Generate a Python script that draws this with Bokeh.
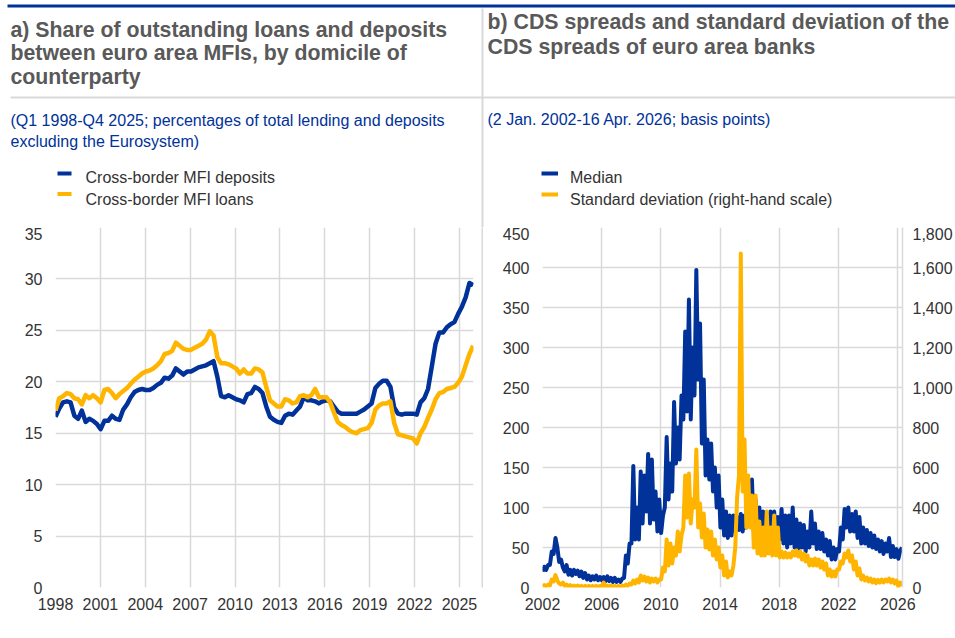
import numpy as np
from bokeh.plotting import figure
from bokeh.models import Range1d, LinearAxis, FixedTicker, NumeralTickFormatter
from bokeh.core.properties import value
from bokeh.layouts import row, column
from bokeh.embed import file_html
from bokeh.resources import INLINE

BLUE = "#003299"
YELLOW = "#ffb400"
GRID = "#d9d9d9"
FONT = "Liberation Sans"
TXT = "#333333"
TITLE_C = "#595959"

# ---------------- Panel a data (quarterly, Q1 1998 - Q4 2025) ----------------
deposits = [
    16.6, 17.4, 18.0, 18.1, 18.0, 16.7, 16.4, 17.2,   # 1998-1999
    16.1, 16.4, 16.2, 15.9, 15.4, 16.2, 16.2, 16.7,   # 2000-2001
    16.4, 16.3, 17.3, 17.8, 18.5, 19.0, 19.2, 19.3,   # 2002-2003
    19.2, 19.2, 19.4, 19.7, 19.9, 20.4, 20.3, 20.6,   # 2004-2005
    21.3, 21.0, 20.7, 21.0, 21.0, 21.2, 21.4, 21.5,   # 2006-2007
    21.6, 21.8, 22.0, 20.5, 18.6, 18.5, 18.7, 18.5,   # 2008-2009
    18.3, 18.2, 18.0, 18.8, 18.9, 19.5, 19.3, 18.9,   # 2010-2011
    17.6, 16.6, 16.3, 16.1, 16.0, 16.7, 16.9, 16.8,   # 2012-2013
    17.2, 17.6, 18.5, 18.2, 18.2, 18.1, 17.9, 18.1,   # 2014-2015
    18.2, 18.1, 17.6, 17.1, 16.9, 16.9, 16.9, 16.9,   # 2016-2017
    16.9, 17.1, 17.3, 17.6, 17.9, 19.4, 19.8, 20.1,   # 2018-2019
    20.1, 19.5, 17.5, 16.9, 16.8, 16.9, 16.9, 16.9,   # 2020-2021
    16.8, 18.0, 18.4, 19.3, 21.5, 23.7, 24.8, 24.8,   # 2022-2023
    25.3, 25.6, 25.8, 26.6, 27.3, 28.2, 29.6, 29.4,   # 2024-2025
]
loans = [
    17.2, 18.4, 18.6, 18.9, 18.8, 18.4, 18.3, 17.8,   # 1998-1999
    18.7, 18.4, 18.7, 18.4, 18.0, 19.2, 19.3, 18.9,   # 2000-2001
    18.4, 18.8, 19.1, 19.4, 19.8, 20.2, 20.5, 20.8,   # 2002-2003
    21.0, 21.1, 21.3, 21.6, 22.0, 22.7, 22.8, 23.0,   # 2004-2005
    23.8, 23.5, 23.2, 23.1, 23.1, 23.3, 23.5, 23.7,   # 2006-2007
    24.1, 24.9, 24.5, 22.4, 21.8, 21.8, 21.7, 21.5,   # 2008-2009
    21.3, 20.8, 21.2, 20.8, 20.8, 21.3, 21.2, 20.9,   # 2010-2011
    19.5, 18.2, 17.9, 17.6, 17.6, 18.3, 18.2, 17.9,   # 2012-2013
    18.0, 18.6, 18.7, 18.5, 18.7, 19.3, 18.5, 18.5,   # 2014-2015
    18.5, 18.0, 17.0, 16.1, 15.8, 15.6, 15.3, 15.1,   # 2016-2017
    15.0, 15.3, 15.4, 15.5, 16.0, 17.3, 17.7, 17.9,   # 2018-2019
    17.9, 18.1, 16.0, 14.9, 14.8, 14.7, 14.6, 14.5,   # 2020-2021
    14.0, 15.0, 15.6, 16.5, 17.3, 18.3, 18.9, 19.0,   # 2022-2023
    19.3, 19.4, 19.5, 19.9, 20.5, 21.6, 22.7, 23.5,   # 2024-2025
]
a_start, a_end = 1998.0, 2025.92          # Q1 1998 .. Q4 2025
a_xticks = list(range(1998, 2026, 3))
a_yticks = list(range(0, 36, 5))

# ---------------- Panel b data (low/high within each quarter, 2002 - Apr 2026) ----------------
median = [
    20, 26, 22, 28, 28, 45, 42, 62,          # 2002
    50, 32, 35, 25, 20, 28, 16, 22,          # 2003
    15, 22, 17, 21, 14, 20, 12, 18,          # 2004
    10, 15, 9, 14, 10, 15, 9, 13,            # 2005
    9, 13, 8, 14, 8, 12, 7, 12,              # 2006
    7, 10, 7, 11, 12, 40, 30, 55,            # 2007
    55, 152, 60, 100, 60, 145, 80, 140,      # 2008
    95, 167, 80, 160, 85, 120, 70, 110,      # 2009
    68, 90, 100, 188, 110, 155, 120, 232,    # 2010
    155, 200, 160, 240, 210, 320, 220, 360,  # 2011
    210, 300, 240, 397, 260, 330, 180, 260,  # 2012
    140, 185, 135, 180, 120, 150, 100, 140,  # 2013
    75, 110, 65, 95, 62, 90, 65, 90,         # 2014
    70, 88, 72, 92, 70, 90, 75, 92,          # 2015
    95, 135, 70, 110, 68, 100, 65, 95,       # 2016
    62, 92, 64, 95, 60, 95, 58, 88,          # 2017
    60, 98, 55, 90, 50, 90, 55, 100,         # 2018
    50, 85, 48, 80, 50, 78, 45, 70,          # 2019
    50, 95, 55, 80, 48, 70, 48, 68,          # 2020
    45, 60, 40, 58, 35, 50, 35, 48,          # 2021
    45, 75, 60, 98, 75, 100, 70, 92,         # 2022
    70, 95, 62, 88, 55, 75, 55, 72,          # 2023
    52, 68, 50, 65, 48, 60, 45, 58,          # 2024
    42, 55, 45, 62, 38, 52, 38, 48,          # 2025
    36, 46, 50,                              # 2026
]
std_dev = [
    5, 12, 5, 15, 10, 40, 30, 62,            # 2002
    35, 20, 15, 25, 8, 15, 5, 12,            # 2003
    3, 10, 3, 10, 2, 8, 2, 8,                # 2004
    2, 8, 2, 8, 2, 8, 2, 8,                  # 2005
    5, 25, 3, 10, 3, 10, 2, 8,               # 2006
    2, 8, 2, 10, 5, 15, 8, 20,               # 2007
    15, 35, 20, 40, 25, 60, 35, 55,          # 2008
    30, 50, 25, 45, 30, 45, 25, 40,          # 2009
    40, 100, 80, 240, 110, 220, 120, 200,    # 2010
    160, 280, 180, 260, 300, 560, 350, 570,  # 2011
    320, 440, 400, 690, 300, 420, 250, 370,  # 2012
    200, 290, 190, 280, 160, 240, 140, 200,  # 2013
    100, 160, 60, 130, 50, 80, 60, 110,      # 2014
    200, 450, 560, 1670, 480, 740, 300, 560, # 2015
    300, 460, 200, 460, 170, 330, 160, 300,  # 2016
    160, 380, 170, 300, 160, 360, 160, 300,  # 2017
    150, 180, 150, 175, 150, 170, 150, 180,  # 2018
    160, 185, 155, 180, 140, 170, 130, 160,  # 2019
    110, 140, 110, 145, 110, 140, 100, 130,  # 2020
    90, 120, 60, 90, 55, 80, 55, 90,         # 2021
    90, 130, 120, 170, 150, 185, 130, 160,   # 2022
    90, 130, 60, 95, 40, 60, 35, 50,         # 2023
    30, 45, 25, 40, 22, 38, 25, 40,          # 2024
    25, 40, 30, 45, 25, 40, 20, 35,          # 2025
    5, 25, 8,                                # 2026
]
b_start, b_end = 2002.0, 2026.29         # 2 Jan 2002 .. 16 Apr 2026
b_xticks = list(range(2002, 2027, 4))
b_yticks = list(range(0, 451, 50))
b_y2ticks = list(range(0, 1801, 200))

a_x = np.linspace(a_start, a_end, len(deposits))
b_x = np.linspace(b_start, b_end, len(median))

# ---------------- texts ----------------
title_a = ["a) Share of outstanding loans and deposits",
           "between euro area MFIs, by domicile of",
           "counterparty"]
sub_a = ["(Q1 1998-Q4 2025; percentages of total lending and deposits",
         "excluding the Eurosystem)"]
leg_a = ["Cross-border MFI deposits", "Cross-border MFI loans"]
title_b = ["b) CDS spreads and standard deviation of the",
           "CDS spreads of euro area banks"]
sub_b = ["(2 Jan. 2002-16 Apr. 2026; basis points)"]
leg_b = ["Median", "Standard deviation (right-hand scale)"]


def style_axes(p):
    for ax in p.axis:
        ax.axis_line_color = None
        ax.major_tick_line_color = None
        ax.minor_tick_line_color = None
        ax.major_tick_out = 0
        ax.major_tick_in = 0
        ax.minor_tick_out = 0
        ax.major_label_text_font = FONT
        ax.major_label_text_font_size = "16px"
        ax.major_label_text_color = TXT
    p.xgrid.grid_line_color = GRID
    p.ygrid.grid_line_color = GRID
    p.xgrid.grid_line_width = 1.5
    p.ygrid.grid_line_width = 1.5
    p.outline_line_color = None
    p.background_fill_color = "white"
    p.border_fill_color = "white"


# ---------------- header (titles, subtitles, legends, rules) ----------------
W, HH = 955, 227
hdr = figure(width=W, height=HH, x_range=Range1d(0, W), y_range=Range1d(HH, 0),
             x_axis_location=None, y_axis_location=None, min_border=0,
             output_backend="svg", toolbar_location=None)
hdr.grid.visible = False
hdr.outline_line_color = None
hdr.background_fill_color = "white"
hdr.border_fill_color = "white"


def htext(xs, ys, texts, size, color, bold=False):
    hdr.text(x=xs, y=ys, text=texts, text_font=value(FONT), text_font_size=value(size),
             text_color=color, text_font_style="bold" if bold else "normal",
             text_baseline="middle", text_align="left")


# rules
hdr.quad(left=[7], right=[W], top=[4], bottom=[7], color=BLUE, line_color=None)
hdr.quad(left=[10], right=[W], top=[96], bottom=[98], color=GRID, line_color=None)
hdr.quad(left=[481], right=[483], top=[8], bottom=[HH], color=GRID, line_color=None)

htext([10, 10, 10], [29, 52.5, 76], title_a, "21.3px", TITLE_C, True)
htext([10, 10], [119.5, 141], sub_a, "16px", BLUE)
hdr.quad(left=[57, 57], right=[71, 71], top=[171, 191.5], bottom=[175, 195.5],
         color=[BLUE, YELLOW], line_color=None)
htext([85, 85], [177, 198.5], leg_a, "16px", TXT)

htext([487, 487], [21, 46.5], title_b, "21.3px", TITLE_C, True)
htext([487], [118.5], sub_b, "16px", BLUE)
hdr.quad(left=[541, 541], right=[557.5, 557.5], top=[171, 192], bottom=[175, 196],
         color=[BLUE, YELLOW], line_color=None)
htext([569.5, 569.5], [176.5, 198.5], leg_b, "16px", TXT)

CH = 638 - HH

# ---------------- Panel a ----------------
p1 = figure(width=481, height=CH, x_range=Range1d(1998, 2025.94), y_range=Range1d(0, 35),
            output_backend="svg", toolbar_location=None,
            min_border_left=55, min_border_right=8, min_border_top=0, min_border_bottom=51)
p1.xaxis.ticker = FixedTicker(ticks=a_xticks)
p1.yaxis.ticker = FixedTicker(ticks=a_yticks)
style_axes(p1)
p1.xaxis.major_label_standoff = 10
p1.yaxis.major_label_standoff = 13

p1.line(a_x, deposits, line_color=BLUE, line_width=4.5, line_join="round")
p1.line(a_x, loans, line_color=YELLOW, line_width=4.5, line_join="round")

# ---------------- separator ----------------
sep = figure(width=2, height=CH, x_range=Range1d(0, 1), y_range=Range1d(0, 1),
             x_axis_location=None, y_axis_location=None, min_border=0, min_border_bottom=8,
             output_backend="svg", toolbar_location=None)
sep.grid.visible = False
sep.outline_line_color = None
sep.background_fill_color = GRID
sep.border_fill_color = "white"

# ---------------- Panel b ----------------
p2 = figure(width=472, height=CH, x_range=Range1d(2002, 2026.32), y_range=Range1d(0, 450),
            output_backend="svg", toolbar_location=None,
            min_border_left=59, min_border_right=50, min_border_top=0, min_border_bottom=51)
p2.extra_y_ranges = {"sd": Range1d(0, 1800)}
ax2 = LinearAxis(y_range_name="sd", ticker=FixedTicker(ticks=b_y2ticks),
                 formatter=NumeralTickFormatter(format="0,0"))
p2.add_layout(ax2, "right")
p2.xaxis.ticker = FixedTicker(ticks=b_xticks)
p2.yaxis[0].ticker = FixedTicker(ticks=b_yticks)
style_axes(p2)
ax2.axis_line_color = GRID
ax2.axis_line_width = 1.5
p2.xaxis.major_label_standoff = 10
p2.yaxis[0].major_label_standoff = 13
ax2.major_label_standoff = 10

p2.line(b_x, median, line_color=BLUE, line_width=4, line_join="round")
p2.line(b_x, std_dev, line_color=YELLOW, line_width=4, line_join="round", y_range_name="sd")

layout = column(hdr, row(p1, sep, p2))
open("out.html", "w").write(file_html(layout, INLINE))
